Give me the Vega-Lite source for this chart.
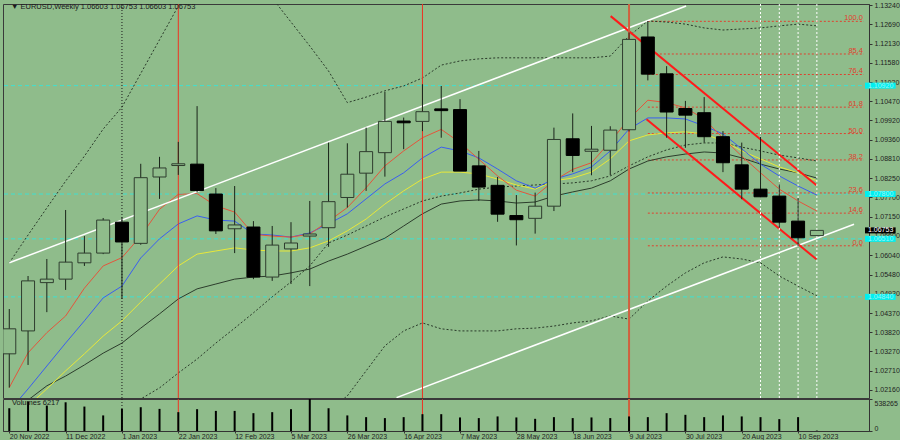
{
  "$schema": "https://vega.github.io/schema/vega-lite/v6.json",
  "background": "#8fbc8b",
  "padding": {"left": 2, "top": 0, "right": 0, "bottom": 0},
  "spacing": 1,
  "bounds": "flush",
  "config": {
    "view": {"stroke": "#3a3a3a", "strokeWidth": 1},
    "font": "Liberation Sans",
    "axis": {"labelFont": "Liberation Sans", "labelFontSize": 7, "labelColor": "#1e1e1e", "tickColor": "#333333", "domainColor": "#333333", "tickSize": 3, "grid": false}
  },
  "datasets": {
    "c": [
      {"w":0,"o":1.0320,"h":1.0449,"l":1.0223,"c":1.0392,"v":383000,"ma1":1.0223,"ma2":1.0156,"ma3":1.0118,"ma4":1.0161,"bbu":1.0582,"bbm":null,"bbl":null},
      {"w":1,"o":1.0386,"h":1.0544,"l":1.0288,"c":1.0530,"v":495000,"ma1":1.0323,"ma2":1.0219,"ma3":1.0170,"ma4":1.0187,"bbu":1.0662,"bbm":null,"bbl":null},
      {"w":2,"o":1.0525,"h":1.0593,"l":1.0440,"c":1.0535,"v":428000,"ma1":1.0381,"ma2":1.0285,"ma3":1.0219,"ma4":1.0228,"bbu":1.0740,"bbm":null,"bbl":null},
      {"w":3,"o":1.0535,"h":1.0734,"l":1.0504,"c":1.0584,"v":483000,"ma1":1.0429,"ma2":1.0351,"ma3":1.0271,"ma4":1.0256,"bbu":1.0817,"bbm":null,"bbl":null},
      {"w":4,"o":1.0582,"h":1.0659,"l":1.0573,"c":1.0610,"v":411000,"ma1":1.0509,"ma2":1.0415,"ma3":1.0320,"ma4":1.0288,"bbu":1.0889,"bbm":null,"bbl":null},
      {"w":5,"o":1.0610,"h":1.0711,"l":1.0607,"c":1.0705,"v":262000,"ma1":1.0573,"ma2":1.0481,"ma3":1.0371,"ma4":1.0322,"bbu":1.0967,"bbm":null,"bbl":null},
      {"w":6,"o":1.0699,"h":1.0713,"l":1.0478,"c":1.0642,"v":372000,"ma1":1.0597,"ma2":1.0515,"ma3":1.0415,"ma4":1.0351,"bbu":1.1030,"bbm":1.0156,"bbl":null},
      {"w":7,"o":1.0638,"h":1.0867,"l":1.0634,"c":1.0827,"v":400000,"ma1":1.0659,"ma2":1.0596,"ma3":1.0469,"ma4":1.0394,"bbu":1.1127,"bbm":1.0190,"bbl":null},
      {"w":8,"o":1.0829,"h":1.0887,"l":1.0766,"c":1.0855,"v":372000,"ma1":1.0736,"ma2":1.0651,"ma3":1.0521,"ma4":1.0435,"bbu":1.1224,"bbm":1.0222,"bbl":null},
      {"w":9,"o":1.0862,"h":1.0930,"l":1.0835,"c":1.0867,"v":317000,"ma1":1.0779,"ma2":1.0694,"ma3":1.0573,"ma4":1.0478,"bbu":1.1321,"bbm":1.0265,"bbl":null},
      {"w":10,"o":1.0866,"h":1.1033,"l":1.0785,"c":1.0790,"v":367000,"ma1":1.0781,"ma2":1.0717,"ma3":1.0607,"ma4":1.0507,"bbu":1.1416,"bbm":1.0305,"bbl":null},
      {"w":11,"o":1.0780,"h":1.0797,"l":1.0665,"c":1.0674,"v":338000,"ma1":1.0746,"ma2":1.0705,"ma3":1.0616,"ma4":1.0521,"bbu":1.1479,"bbm":1.0351,"bbl":null},
      {"w":12,"o":1.0680,"h":1.0803,"l":1.0610,"c":1.0691,"v":338000,"ma1":1.0728,"ma2":1.0702,"ma3":1.0625,"ma4":1.0535,"bbu":1.1508,"bbm":1.0394,"bbl":null},
      {"w":13,"o":1.0685,"h":1.0702,"l":1.0535,"c":1.0541,"v":300000,"ma1":1.0664,"ma2":1.0665,"ma3":1.0619,"ma4":1.0541,"bbu":1.1436,"bbm":1.0438,"bbl":null},
      {"w":14,"o":1.0541,"h":1.0688,"l":1.0530,"c":1.0633,"v":317000,"ma1":1.0659,"ma2":1.0662,"ma3":1.0616,"ma4":1.0544,"bbu":1.1344,"bbm":1.0484,"bbl":null},
      {"w":15,"o":1.0622,"h":1.0699,"l":1.0521,"c":1.0639,"v":367000,"ma1":1.0656,"ma2":1.0656,"ma3":1.0616,"ma4":1.0553,"bbu":1.1275,"bbm":1.0527,"bbl":null},
      {"w":16,"o":1.0659,"h":1.0760,"l":1.0515,"c":1.0665,"v":538265,"ma1":1.0665,"ma2":1.0668,"ma3":1.0625,"ma4":1.0564,"bbu":1.1206,"bbm":1.0573,"bbl":null},
      {"w":17,"o":1.0683,"h":1.0928,"l":1.0628,"c":1.0758,"v":383000,"ma1":1.0702,"ma2":1.0694,"ma3":1.0645,"ma4":1.0587,"bbu":1.1134,"bbm":1.0639,"bbl":1.0156},
      {"w":18,"o":1.0770,"h":1.0926,"l":1.0741,"c":1.0837,"v":262000,"ma1":1.0741,"ma2":1.0723,"ma3":1.0674,"ma4":1.0607,"bbu":1.1043,"bbm":1.0662,"bbl":1.0199},
      {"w":19,"o":1.0840,"h":1.0971,"l":1.0789,"c":1.0902,"v":233000,"ma1":1.0798,"ma2":1.0766,"ma3":1.0708,"ma4":1.0630,"bbu":1.1059,"bbm":1.0688,"bbl":1.0271},
      {"w":20,"o":1.0899,"h":1.1074,"l":1.0830,"c":1.0989,"v":217000,"ma1":1.0861,"ma2":1.0809,"ma3":1.0751,"ma4":1.0653,"bbu":1.1077,"bbm":1.0714,"bbl":1.0343},
      {"w":21,"o":1.0990,"h":1.1000,"l":1.0909,"c":1.0985,"v":233000,"ma1":1.0904,"ma2":1.0841,"ma3":1.0789,"ma4":1.0688,"bbu":1.1091,"bbm":1.0737,"bbl":1.0386},
      {"w":22,"o":1.0989,"h":1.1096,"l":1.0961,"c":1.1017,"v":283000,"ma1":1.0942,"ma2":1.0884,"ma3":1.0823,"ma4":1.0723,"bbu":1.1114,"bbm":1.0760,"bbl":1.0409},
      {"w":23,"o":1.1025,"h":1.1091,"l":1.0942,"c":1.1020,"v":283000,"ma1":1.0966,"ma2":1.0915,"ma3":1.0843,"ma4":1.0751,"bbu":1.1151,"bbm":1.0774,"bbl":1.0392},
      {"w":24,"o":1.1023,"h":1.1053,"l":1.0846,"c":1.0846,"v":228000,"ma1":1.0928,"ma2":1.0904,"ma3":1.0843,"ma4":1.0760,"bbu":1.1163,"bbm":1.0783,"bbl":1.0386},
      {"w":25,"o":1.0861,"h":1.0904,"l":1.0760,"c":1.0800,"v":217000,"ma1":1.0880,"ma2":1.0884,"ma3":1.0838,"ma4":1.0763,"bbu":1.1169,"bbm":1.0794,"bbl":1.0386},
      {"w":26,"o":1.0805,"h":1.0829,"l":1.0700,"c":1.0722,"v":245000,"ma1":1.0832,"ma2":1.0852,"ma3":1.0823,"ma4":1.0760,"bbu":1.1172,"bbm":1.0800,"bbl":1.0386},
      {"w":27,"o":1.0718,"h":1.0777,"l":1.0632,"c":1.0706,"v":228000,"ma1":1.0791,"ma2":1.0818,"ma3":1.0806,"ma4":1.0754,"bbu":1.1172,"bbm":1.0803,"bbl":1.0392},
      {"w":28,"o":1.0710,"h":1.0784,"l":1.0666,"c":1.0745,"v":205000,"ma1":1.0774,"ma2":1.0797,"ma3":1.0794,"ma4":1.0757,"bbu":1.1172,"bbm":1.0806,"bbl":1.0394},
      {"w":29,"o":1.0745,"h":1.0971,"l":1.0731,"c":1.0937,"v":233000,"ma1":1.0818,"ma2":1.0823,"ma3":1.0818,"ma4":1.0774,"bbu":1.1172,"bbm":1.0809,"bbl":1.0400},
      {"w":30,"o":1.0939,"h":1.1012,"l":1.0843,"c":1.0891,"v":217000,"ma1":1.0851,"ma2":1.0838,"ma3":1.0826,"ma4":1.0786,"bbu":1.1172,"bbm":1.0812,"bbl":1.0409},
      {"w":31,"o":1.0903,"h":1.0976,"l":1.0834,"c":1.0909,"v":228000,"ma1":1.0870,"ma2":1.0858,"ma3":1.0843,"ma4":1.0797,"bbu":1.1172,"bbm":1.0818,"bbl":1.0415},
      {"w":32,"o":1.0906,"h":1.0975,"l":1.0834,"c":1.0964,"v":217000,"ma1":1.0931,"ma2":1.0904,"ma3":1.0881,"ma4":1.0818,"bbu":1.1177,"bbm":1.0832,"bbl":1.0429},
      {"w":33,"o":1.0965,"h":1.1245,"l":1.0960,"c":1.1225,"v":245000,"ma1":1.0996,"ma2":1.0967,"ma3":1.0933,"ma4":1.0852,"bbu":1.1235,"bbm":1.0861,"bbl":1.0420},
      {"w":34,"o":1.1232,"h":1.1278,"l":1.1107,"c":1.1125,"v":233000,"ma1":1.1050,"ma2":1.0999,"ma3":1.0950,"ma4":1.0875,"bbu":1.1278,"bbm":1.0887,"bbl":1.0472},
      {"w":35,"o":1.1126,"h":1.1148,"l":1.0942,"c":1.1016,"v":300000,"ma1":1.1043,"ma2":1.0999,"ma3":1.0956,"ma4":1.0887,"bbu":1.1275,"bbm":1.0907,"bbl":1.0515},
      {"w":36,"o":1.1026,"h":1.1048,"l":1.0913,"c":1.1007,"v":272000,"ma1":1.1028,"ma2":1.0996,"ma3":1.0959,"ma4":1.0895,"bbu":1.1269,"bbm":1.0921,"bbl":1.0553},
      {"w":37,"o":1.1014,"h":1.1059,"l":1.0928,"c":1.0945,"v":233000,"ma1":1.0996,"ma2":1.0976,"ma3":1.0953,"ma4":1.0901,"bbu":1.1258,"bbm":1.0927,"bbl":1.0582},
      {"w":38,"o":1.0945,"h":1.0961,"l":1.0843,"c":1.0870,"v":262000,"ma1":1.0941,"ma2":1.0953,"ma3":1.0933,"ma4":1.0898,"bbu":1.1252,"bbm":1.0927,"bbl":1.0599},
      {"w":39,"o":1.0864,"h":1.0928,"l":1.0765,"c":1.0794,"v":245000,"ma1":1.0889,"ma2":1.0910,"ma3":1.0904,"ma4":1.0884,"bbu":1.1255,"bbm":1.0915,"bbl":1.0593},
      {"w":40,"o":1.0794,"h":1.0945,"l":1.0770,"c":1.0772,"v":233000,"ma1":1.0841,"ma2":1.0866,"ma3":1.0881,"ma4":1.0866,"bbu":1.1258,"bbm":1.0904,"bbl":1.0582},
      {"w":41,"o":1.0774,"h":1.0808,"l":1.0683,"c":1.0699,"v":200000,"ma1":1.0794,"ma2":1.0832,"ma3":1.0858,"ma4":1.0852,"bbu":1.1264,"bbm":1.0892,"bbl":1.0544},
      {"w":42,"o":1.0702,"h":1.0768,"l":1.0630,"c":1.0654,"v":233000,"ma1":1.0760,"ma2":1.0803,"ma3":1.0841,"ma4":1.0841,"bbu":1.1269,"bbm":1.0884,"bbl":1.0515},
      {"w":43,"o":1.06603,"h":1.06753,"l":1.06603,"c":1.06753,"v":6217,"ma1":1.0731,"ma2":1.0777,"ma3":1.0818,"ma4":1.0826,"bbu":1.1264,"bbm":1.0875,"bbl":1.0487}
    ],
    "tl": [
      {"id":"wu","w":0,"p":1.0582},{"id":"wu","w":36.04,"p":1.1321},
      {"id":"wl","w":20.62,"p":1.0194},{"id":"wl","w":44.98,"p":1.0693},
      {"id":"ru","w":32.02,"p":1.1292},{"id":"ru","w":42.98,"p":1.0805},
      {"id":"rl","w":33.93,"p":1.0995},{"id":"rl","w":42.98,"p":1.0592}
    ],
    "fb": [
      {"lv":"100.0","p":1.1277,"w":34,"w2":45.51},
      {"lv":"85.4","p":1.1183,"w":34,"w2":45.51},
      {"lv":"76.4","p":1.1124,"w":34,"w2":45.51},
      {"lv":"61.8","p":1.1030,"w":34,"w2":45.51},
      {"lv":"50.0","p":1.0954,"w":34,"w2":45.51},
      {"lv":"38.2","p":1.0878,"w":34,"w2":45.51},
      {"lv":"23.6","p":1.0783,"w":34,"w2":45.51},
      {"lv":"14.6","p":1.0725,"w":34,"w2":45.51},
      {"lv":"0.0","p":1.0631,"w":34,"w2":45.51}
    ],
    "hl": [{"p":1.1092},{"p":1.0780},{"p":1.0651},{"p":1.0484}],
    "bx": [{"p":1.1092,"t":"1.10920","k":"c"},{"p":1.0780,"t":"1.07800","k":"c"},{"p":1.0651,"t":"1.06510","k":"c"},{"p":1.0484,"t":"1.04840","k":"c"},{"p":1.06753,"t":"1.06753","k":"b"}],
    "vl": [{"w":6,"k":"k"},{"w":9,"k":"r"},{"w":22,"k":"r"},{"w":33,"k":"o"},{"w":40,"k":"w"},{"w":41,"k":"w"},{"w":42,"k":"w"},{"w":43,"k":"w"}],
    "tx": [{"t":"▼  EURUSD,Weekly  1.06603 1.06753 1.06603 1.06753"}],
    "vt": [{"t":"Volumes 6217"}]
  },
  "vconcat": [
    {
      "width": 866,
      "height": 394,
      "layer": [
        {
          "data": {"name": "hl"},
          "mark": {"type": "rule", "stroke": "#3fe0d0", "strokeDash": [4, 3], "strokeWidth": 1},
          "encoding": {
            "y": {"field": "p", "type": "quantitative", "scale": {"domain": [1.01929, 1.13269], "nice": false, "zero": false},
              "axis": {"orient": "right", "title": null, "format": ".5f", "labelPadding": 2, "labelFontSize": 7, "values": [1.1324, 1.1269, 1.1213, 1.1158, 1.1102, 1.1047, 1.0992, 1.0936, 1.0881, 1.0825, 1.077, 1.0715, 1.066, 1.0604, 1.0548, 1.0493, 1.0437, 1.0382, 1.0327, 1.0271, 1.0216], "labelOverlap": false, "labelBound": false, "labelFlush": false}}
          }
        },
        {
          "data": {"name": "fb"},
          "mark": {"type": "rule", "stroke": "#e0402f", "strokeDash": [2, 2], "strokeWidth": 1},
          "encoding": {
            "x": {"field": "w", "type": "quantitative", "scale": {"domain": [-0.068, 45.51], "nice": false, "zero": false}, "axis": null},
            "x2": {"field": "w2"},
            "y": {"field": "p", "type": "quantitative", "axis": {"orient": "right", "title": null, "format": ".5f", "labelPadding": 2, "labelFontSize": 7, "values": [1.1324, 1.1269, 1.1213, 1.1158, 1.1102, 1.1047, 1.0992, 1.0936, 1.0881, 1.0825, 1.077, 1.0715, 1.066, 1.0604, 1.0548, 1.0493, 1.0437, 1.0382, 1.0327, 1.0271, 1.0216], "labelOverlap": false, "labelBound": false, "labelFlush": false}}
          }
        },
        {
          "data": {"name": "c"},
          "transform": [{"fold": ["bbu", "bbm", "bbl"], "as": ["k", "val"]}],
          "mark": {"type": "line", "stroke": "#2a3a2a", "strokeDash": [2, 2], "strokeWidth": 1, "clip": true},
          "encoding": {
            "x": {"field": "w", "type": "quantitative", "axis": null},
            "y": {"field": "val", "type": "quantitative", "axis": {"orient": "right", "title": null, "format": ".5f", "labelPadding": 2, "labelFontSize": 7, "values": [1.1324, 1.1269, 1.1213, 1.1158, 1.1102, 1.1047, 1.0992, 1.0936, 1.0881, 1.0825, 1.077, 1.0715, 1.066, 1.0604, 1.0548, 1.0493, 1.0437, 1.0382, 1.0327, 1.0271, 1.0216], "labelOverlap": false, "labelBound": false, "labelFlush": false}},
            "detail": {"field": "k"}
          }
        },
        {
          "data": {"name": "c"},
          "transform": [{"fold": ["ma4", "ma3", "ma2", "ma1"], "as": ["k", "val"]}],
          "mark": {"type": "line", "strokeWidth": 1, "clip": true},
          "encoding": {
            "x": {"field": "w", "type": "quantitative", "axis": null},
            "y": {"field": "val", "type": "quantitative", "axis": {"orient": "right", "title": null, "format": ".5f", "labelPadding": 2, "labelFontSize": 7, "values": [1.1324, 1.1269, 1.1213, 1.1158, 1.1102, 1.1047, 1.0992, 1.0936, 1.0881, 1.0825, 1.077, 1.0715, 1.066, 1.0604, 1.0548, 1.0493, 1.0437, 1.0382, 1.0327, 1.0271, 1.0216], "labelOverlap": false, "labelBound": false, "labelFlush": false}},
            "color": {"field": "k", "type": "nominal", "scale": {"domain": ["ma1", "ma2", "ma3", "ma4"], "range": ["#e4553c", "#3a5ef0", "#e8e83a", "#2c3c2c"]}, "legend": null}
          }
        },
        {
          "data": {"name": "tl"},
          "transform": [{"filter": "datum.id == 'wu' || datum.id == 'wl'"}],
          "mark": {"type": "line", "stroke": "#ffffff", "strokeWidth": 1.5, "clip": true},
          "encoding": {
            "x": {"field": "w", "type": "quantitative", "axis": null},
            "y": {"field": "p", "type": "quantitative", "axis": {"orient": "right", "title": null, "format": ".5f", "labelPadding": 2, "labelFontSize": 7, "values": [1.1324, 1.1269, 1.1213, 1.1158, 1.1102, 1.1047, 1.0992, 1.0936, 1.0881, 1.0825, 1.077, 1.0715, 1.066, 1.0604, 1.0548, 1.0493, 1.0437, 1.0382, 1.0327, 1.0271, 1.0216], "labelOverlap": false, "labelBound": false, "labelFlush": false}},
            "detail": {"field": "id"}
          }
        },
        {
          "data": {"name": "tl"},
          "transform": [{"filter": "datum.id == 'ru' || datum.id == 'rl'"}],
          "mark": {"type": "line", "stroke": "#ff1a1a", "strokeWidth": 2, "clip": true},
          "encoding": {
            "x": {"field": "w", "type": "quantitative", "axis": null},
            "y": {"field": "p", "type": "quantitative", "axis": {"orient": "right", "title": null, "format": ".5f", "labelPadding": 2, "labelFontSize": 7, "values": [1.1324, 1.1269, 1.1213, 1.1158, 1.1102, 1.1047, 1.0992, 1.0936, 1.0881, 1.0825, 1.077, 1.0715, 1.066, 1.0604, 1.0548, 1.0493, 1.0437, 1.0382, 1.0327, 1.0271, 1.0216], "labelOverlap": false, "labelBound": false, "labelFlush": false}},
            "detail": {"field": "id"}
          }
        },
        {
          "data": {"name": "vl"},
          "transform": [{"filter": "datum.k == 'w'"}],
          "mark": {"type": "rule", "stroke": "#ffffff", "strokeDash": [2, 2], "strokeWidth": 1},
          "encoding": {"x": {"field": "w", "type": "quantitative", "axis": null}}
        },
        {
          "data": {"name": "vl"},
          "transform": [{"filter": "datum.k == 'k'"}],
          "mark": {"type": "rule", "stroke": "#1a1a1a", "strokeDash": [1, 2], "strokeWidth": 1},
          "encoding": {"x": {"field": "w", "type": "quantitative", "axis": null}}
        },
        {
          "data": {"name": "vl"},
          "transform": [{"filter": "datum.k == 'r'"}],
          "mark": {"type": "rule", "stroke": "#ee3322", "strokeWidth": 1},
          "encoding": {"x": {"field": "w", "type": "quantitative", "axis": null}}
        },
        {
          "data": {"name": "vl"},
          "transform": [{"filter": "datum.k == 'o'"}],
          "mark": {"type": "rule", "stroke": "#d0603e", "strokeWidth": 2},
          "encoding": {"x": {"field": "w", "type": "quantitative", "axis": null}}
        },
        {
          "data": {"name": "c"},
          "mark": {"type": "rule", "stroke": "#1a241a", "strokeWidth": 1, "clip": true},
          "encoding": {
            "x": {"field": "w", "type": "quantitative", "axis": null},
            "y": {"field": "l", "type": "quantitative", "axis": {"orient": "right", "title": null, "format": ".5f", "labelPadding": 2, "labelFontSize": 7, "values": [1.1324, 1.1269, 1.1213, 1.1158, 1.1102, 1.1047, 1.0992, 1.0936, 1.0881, 1.0825, 1.077, 1.0715, 1.066, 1.0604, 1.0548, 1.0493, 1.0437, 1.0382, 1.0327, 1.0271, 1.0216], "labelOverlap": false, "labelBound": false, "labelFlush": false}},
            "y2": {"field": "h"}
          }
        },
        {
          "data": {"name": "c"},
          "mark": {"type": "bar", "size": 13, "strokeWidth": 1, "clip": true},
          "encoding": {
            "x": {"field": "w", "type": "quantitative", "axis": null},
            "y": {"field": "o", "type": "quantitative", "axis": {"orient": "right", "title": null, "format": ".5f", "labelPadding": 2, "labelFontSize": 7, "values": [1.1324, 1.1269, 1.1213, 1.1158, 1.1102, 1.1047, 1.0992, 1.0936, 1.0881, 1.0825, 1.077, 1.0715, 1.066, 1.0604, 1.0548, 1.0493, 1.0437, 1.0382, 1.0327, 1.0271, 1.0216], "labelOverlap": false, "labelBound": false, "labelFlush": false}},
            "y2": {"field": "c"},
            "fill": {"condition": {"test": "datum.c >= datum.o", "value": "#8fbc8b"}, "value": "#000000"},
            "stroke": {"condition": {"test": "datum.c >= datum.o", "value": "#2f3d2f"}, "value": "#000000"}
          }
        },
        {
          "data": {"name": "fb"},
          "mark": {"type": "text", "align": "right", "baseline": "alphabetic", "dy": -1, "dx": -1, "fontSize": 7.5, "color": "#e0402f"},
          "encoding": {
            "x": {"field": "w2", "type": "quantitative", "axis": null},
            "y": {"field": "p", "type": "quantitative", "axis": {"orient": "right", "title": null, "format": ".5f", "labelPadding": 2, "labelFontSize": 7, "values": [1.1324, 1.1269, 1.1213, 1.1158, 1.1102, 1.1047, 1.0992, 1.0936, 1.0881, 1.0825, 1.077, 1.0715, 1.066, 1.0604, 1.0548, 1.0493, 1.0437, 1.0382, 1.0327, 1.0271, 1.0216], "labelOverlap": false, "labelBound": false, "labelFlush": false}},
            "text": {"field": "lv"}
          }
        },
        {
          "data": {"name": "tx"},
          "mark": {"type": "text", "align": "left", "baseline": "middle", "fontSize": 7.5, "color": "#1a1a1a"},
          "encoding": {
            "x": {"datum": 0.09, "type": "quantitative", "axis": null},
            "y": {"datum": 1.1318, "type": "quantitative", "axis": {"orient": "right", "title": null, "format": ".5f", "labelPadding": 2, "labelFontSize": 7, "values": [1.1324, 1.1269, 1.1213, 1.1158, 1.1102, 1.1047, 1.0992, 1.0936, 1.0881, 1.0825, 1.077, 1.0715, 1.066, 1.0604, 1.0548, 1.0493, 1.0437, 1.0382, 1.0327, 1.0271, 1.0216], "labelOverlap": false, "labelBound": false, "labelFlush": false}},
            "text": {"field": "t"}
          }
        },
        {
          "data": {"name": "bx"},
          "mark": {"type": "rule", "strokeWidth": 6},
          "encoding": {
            "x": {"datum": 45.563, "type": "quantitative", "axis": null},
            "x2": {"datum": 47.195},
            "y": {"field": "p", "type": "quantitative", "axis": {"orient": "right", "title": null, "format": ".5f", "labelPadding": 2, "labelFontSize": 7, "values": [1.1324, 1.1269, 1.1213, 1.1158, 1.1102, 1.1047, 1.0992, 1.0936, 1.0881, 1.0825, 1.077, 1.0715, 1.066, 1.0604, 1.0548, 1.0493, 1.0437, 1.0382, 1.0327, 1.0271, 1.0216], "labelOverlap": false, "labelBound": false, "labelFlush": false}},
            "stroke": {"condition": {"test": "datum.k == 'b'", "value": "#000000"}, "value": "#00f0f0"}
          }
        },
        {
          "data": {"name": "bx"},
          "mark": {"type": "text", "align": "left", "baseline": "middle", "fontSize": 7, "dx": 3},
          "encoding": {
            "x": {"datum": 45.563, "type": "quantitative", "axis": null},
            "y": {"field": "p", "type": "quantitative", "axis": {"orient": "right", "title": null, "format": ".5f", "labelPadding": 2, "labelFontSize": 7, "values": [1.1324, 1.1269, 1.1213, 1.1158, 1.1102, 1.1047, 1.0992, 1.0936, 1.0881, 1.0825, 1.077, 1.0715, 1.066, 1.0604, 1.0548, 1.0493, 1.0437, 1.0382, 1.0327, 1.0271, 1.0216], "labelOverlap": false, "labelBound": false, "labelFlush": false}},
            "text": {"field": "t"},
            "color": {"condition": {"test": "datum.k == 'b'", "value": "#ffffff"}, "value": "#9ff4f4"}
          }
        }
      ]
    },
    {
      "width": 866,
      "height": 32,
      "layer": [
        {
          "data": {"name": "vl"},
          "transform": [{"filter": "datum.k == 'k'"}],
          "mark": {"type": "rule", "stroke": "#1a1a1a", "strokeDash": [1, 2], "strokeWidth": 1},
          "encoding": {"x": {"field": "w", "type": "quantitative", "scale": {"domain": [-0.068, 45.51], "nice": false, "zero": false},
            "axis": {"orient": "bottom", "title": null, "values": [0, 3, 6, 9, 12, 15, 18, 21, 24, 27, 30, 33, 36, 39, 42], "labelExpr": "['20 Nov 2022','11 Dec 2022','1 Jan 2023','22 Jan 2023','12 Feb 2023','5 Mar 2023','26 Mar 2023','16 Apr 2023','7 May 2023','28 May 2023','18 Jun 2023','9 Jul 2023','30 Jul 2023','20 Aug 2023','10 Sep 2023'][round(datum.value/3)]", "labelAlign": "left", "labelBaseline": "top", "labelFontSize": 7, "labelPadding": -1, "tickSize": 2, "labelOverlap": false, "labelFlush": false, "labelBound": false}}}
        },
        {
          "data": {"name": "vl"},
          "transform": [{"filter": "datum.k == 'r'"}],
          "mark": {"type": "rule", "stroke": "#ee3322", "strokeWidth": 1},
          "encoding": {"x": {"field": "w", "type": "quantitative",
            "axis": {"orient": "bottom", "title": null, "values": [0, 3, 6, 9, 12, 15, 18, 21, 24, 27, 30, 33, 36, 39, 42], "labelExpr": "['20 Nov 2022','11 Dec 2022','1 Jan 2023','22 Jan 2023','12 Feb 2023','5 Mar 2023','26 Mar 2023','16 Apr 2023','7 May 2023','28 May 2023','18 Jun 2023','9 Jul 2023','30 Jul 2023','20 Aug 2023','10 Sep 2023'][round(datum.value/3)]", "labelAlign": "left", "labelBaseline": "top", "labelFontSize": 7, "labelPadding": -1, "tickSize": 2, "labelOverlap": false, "labelFlush": false, "labelBound": false}}}
        },
        {
          "data": {"name": "vl"},
          "transform": [{"filter": "datum.k == 'o'"}],
          "mark": {"type": "rule", "stroke": "#d0603e", "strokeWidth": 2},
          "encoding": {"x": {"field": "w", "type": "quantitative",
            "axis": {"orient": "bottom", "title": null, "values": [0, 3, 6, 9, 12, 15, 18, 21, 24, 27, 30, 33, 36, 39, 42], "labelExpr": "['20 Nov 2022','11 Dec 2022','1 Jan 2023','22 Jan 2023','12 Feb 2023','5 Mar 2023','26 Mar 2023','16 Apr 2023','7 May 2023','28 May 2023','18 Jun 2023','9 Jul 2023','30 Jul 2023','20 Aug 2023','10 Sep 2023'][round(datum.value/3)]", "labelAlign": "left", "labelBaseline": "top", "labelFontSize": 7, "labelPadding": -1, "tickSize": 2, "labelOverlap": false, "labelFlush": false, "labelBound": false}}}
        },
        {
          "data": {"name": "c"},
          "mark": {"type": "bar", "size": 2, "color": "#000000"},
          "encoding": {
            "x": {"field": "w", "type": "quantitative",
              "axis": {"orient": "bottom", "title": null, "values": [0, 3, 6, 9, 12, 15, 18, 21, 24, 27, 30, 33, 36, 39, 42], "labelExpr": "['20 Nov 2022','11 Dec 2022','1 Jan 2023','22 Jan 2023','12 Feb 2023','5 Mar 2023','26 Mar 2023','16 Apr 2023','7 May 2023','28 May 2023','18 Jun 2023','9 Jul 2023','30 Jul 2023','20 Aug 2023','10 Sep 2023'][round(datum.value/3)]", "labelAlign": "left", "labelBaseline": "top", "labelFontSize": 7, "labelPadding": -1, "tickSize": 2, "labelOverlap": false, "labelFlush": false, "labelBound": false}},
            "y": {"field": "v", "type": "quantitative", "scale": {"domain": [0, 538265], "nice": false},
              "axis": {"orient": "right", "title": null, "values": [0, 538265], "format": "d", "labelPadding": 2, "labelFontSize": 7, "labelOverlap": false, "labelFlush": true}}
          }
        },
        {
          "data": {"name": "vt"},
          "mark": {"type": "text", "align": "left", "baseline": "middle", "fontSize": 7.5, "color": "#1a1a1a"},
          "encoding": {
            "x": {"datum": 0.14, "type": "quantitative",
              "axis": {"orient": "bottom", "title": null, "values": [0, 3, 6, 9, 12, 15, 18, 21, 24, 27, 30, 33, 36, 39, 42], "labelExpr": "['20 Nov 2022','11 Dec 2022','1 Jan 2023','22 Jan 2023','12 Feb 2023','5 Mar 2023','26 Mar 2023','16 Apr 2023','7 May 2023','28 May 2023','18 Jun 2023','9 Jul 2023','30 Jul 2023','20 Aug 2023','10 Sep 2023'][round(datum.value/3)]", "labelAlign": "left", "labelBaseline": "top", "labelFontSize": 7, "labelPadding": -1, "tickSize": 2, "labelOverlap": false, "labelFlush": false, "labelBound": false}},
            "y": {"datum": 470000, "type": "quantitative",
              "axis": {"orient": "right", "title": null, "values": [0, 538265], "format": "d", "labelPadding": 2, "labelFontSize": 7, "labelOverlap": false, "labelFlush": true}},
            "text": {"field": "t"}
          }
        }
      ]
    }
  ]
}
